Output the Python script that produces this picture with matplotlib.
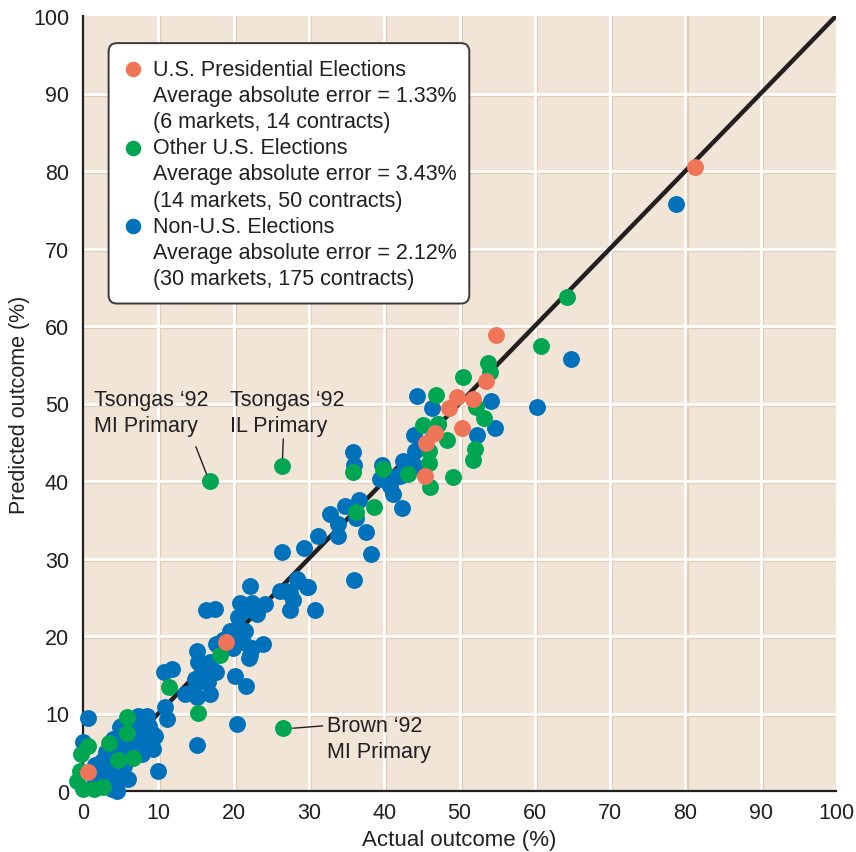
import matplotlib
matplotlib.use("Agg")
import matplotlib.pyplot as plt
from matplotlib.patches import FancyBboxPatch
import numpy as np

plt.rcParams['font.family'] = ['Liberation Sans', 'DejaVu Sans']

# ---------------- data (actual %, predicted %) ----------------
pres_x = [81.3, 54.8, 53.5, 49.7, 51.8, 48.6, 50.3, 46.7, 45.6, 45.4, 19.0, 0.7]
pres_y = [80.5, 58.8, 52.9, 50.8, 50.6, 49.4, 46.8, 46.2, 44.9, 40.6, 19.2, 2.4]

other_x = [64.3, 60.8, 53.8, 54.0, 50.5, 46.9, 52.2, 53.3, 45.2, 47.2, 48.3, 45.9, 52.1, 51.8,
           45.9, 43.1, 49.1, 46.1, 39.9, 35.9, 36.3, 38.6, 26.4, 16.9, 26.6, 15.3, 11.4, 18.2,
           5.9, 5.9, 3.5, 4.6, 6.7, 0.7, -0.2, -0.4, -0.8, 0.0, 1.4, 2.7]
other_y = [63.7, 57.4, 55.2, 54.1, 53.4, 51.1, 49.6, 48.1, 47.2, 47.3, 45.3, 43.9, 44.1, 42.7,
           42.3, 40.9, 40.5, 39.2, 41.5, 41.1, 36.0, 36.6, 41.9, 40.0, 8.1, 10.1, 13.4, 17.6,
           9.5, 7.5, 6.2, 4.0, 4.2, 5.8, 4.8, 2.6, 1.3, 0.3, 0.3, 0.5]

nonus_x = [78.8, 64.8, 60.3, 44.4, 46.3, 54.2, 54.7, 52.3, 43.9, 47.1, 44.1, 42.5, 44.1, 42.1,
           42.9, 41.7, 39.7, 39.4, 40.8, 41.2, 42.3, 35.8, 36.0, 36.3, 34.8, 36.6, 32.8, 33.9,
           33.8, 31.2, 37.6, 38.2, 29.3, 26.4, 36.0, 28.4, 29.9, 27.0,
           22.2, 20.9, 22.4, 24.2, 21.5, 23.1, 20.6, 16.4, 17.5, 26.2, 27.5, 28.6, 29.7, 27.9,
           27.5, 30.8, 21.5, 18.9, 19.7, 22.4, 23.9, 22.0, 15.1, 17.7, 18.6, 19.5, 20.8, 21.3,
           19.9, 22.2, 15.8, 17.7, 10.7, 11.8, 14.9, 15.8, 20.2, 21.7, 14.6, 13.5, 15.1, 16.9,
           10.9, 11.1, 20.4, 15.1, 8.5, 8.5, 9.1, 8.0, 10.0, 0.7, 15.3, 16.9, 16.6,
           7.3, 7.1, 9.1, 9.3, 4.9, 4.0, 5.4, 3.1, 2.5, 1.6, 2.0, 1.6, 3.1, 4.0, 4.7, 4.5, 4.5,
           7.8, 0.0, 5.1, 4.7, 6.9, 4.2, 5.6, 6.5, 7.8, 2.5, 4.2, 2.9, 8.7, 6.2, 7.5, 3.5, 5.5,
           6.0, 9.6, 3.8]
nonus_y = [75.7, 55.7, 49.6, 51.0, 49.4, 50.3, 46.8, 45.9, 45.9, 47.4, 43.9, 42.6, 42.0, 40.7,
           42.1, 40.7, 42.1, 40.3, 39.4, 38.3, 36.5, 43.8, 42.1, 35.2, 36.8, 37.5, 35.7, 34.5,
           32.9, 32.9, 33.4, 30.6, 31.4, 30.8, 27.2, 27.4, 26.3, 25.8,
           26.5, 24.3, 24.3, 24.1, 23.3, 22.8, 22.4, 23.3, 23.5, 25.8, 25.6, 27.1, 26.3, 24.6,
           23.3, 23.3, 20.7, 19.6, 19.0, 18.5, 19.0, 17.2, 18.1, 19.0, 19.5, 20.7, 20.7, 19.2,
           18.5, 17.5, 15.7, 15.3, 15.3, 15.7, 14.5, 14.2, 14.9, 13.6, 12.9, 12.5, 12.1, 12.5,
           10.8, 9.3, 8.6, 5.9, 9.7, 8.0, 7.1, 6.3, 2.6, 9.4, 16.6, 16.6, 14.1,
           9.7, 8.2, 7.5, 5.4, 8.2, 6.7, 5.4, 5.0, 3.9, 3.3, 2.2, 1.1, 2.4, 2.0, 2.4, 0.9, 0.0,
           5.2, 6.3, 8.4, 6.9, 6.1, 5.6, 5.2, 4.3, 4.8, 3.7, 0.7, 0.9, 8.4, 7.0, 5.9, 3.0, 3.2,
           1.5, 7.1, 0.3]

legend_titles = ["U.S. Presidential Elections", "Other U.S. Elections", "Non-U.S. Elections"]
legend_errors = ["1.33%", "3.43%", "2.12%"]
legend_counts = ["(6 markets, 14 contracts)", "(14 markets, 50 contracts)", "(30 markets, 175 contracts)"]

ticks = list(range(0, 101, 10))

# ---------------- style ----------------
C_PRES = "#F07458"
C_OTHER = "#00A651"
C_NONUS = "#0072BC"
BG = "#F1E5D8"
SHADOW = "#E2CEB6"
TXT = "#231F20"

fig = plt.figure(figsize=(8.56, 8.53), dpi=100)
ax = fig.add_axes([83/856, 1 - 792/853, (836-83)/856, (792-17)/853])
ax.set_facecolor(BG)
ax.set_xlim(0, 100)
ax.set_ylim(0, 100)

# grid with tan shadow
for t in ticks[1:-1]:
    ax.axvline(t + 0.28, color=SHADOW, lw=1.6, zorder=0.5)
    ax.axhline(t - 0.28, color=SHADOW, lw=1.6, zorder=0.5)
for t in ticks[1:-1]:
    ax.axvline(t, color="white", lw=2.0, zorder=0.6)
    ax.axhline(t, color="white", lw=2.0, zorder=0.6)

# diagonal
ax.plot([0, 100], [0, 100], color="#231F20", lw=3.2, zorder=2, solid_capstyle='butt')

S = 148
ax.scatter(nonus_x, nonus_y, s=S, color=C_NONUS, lw=0, zorder=3, clip_on=False)
ax.scatter(other_x, other_y, s=S, color=C_OTHER, lw=0, zorder=4, clip_on=False)
ax.scatter(pres_x, pres_y, s=S, color=C_PRES, lw=0, zorder=5, clip_on=False)

for side in ["top", "right"]:
    ax.spines[side].set_visible(False)
for side in ["left", "bottom"]:
    ax.spines[side].set_color(TXT)
    ax.spines[side].set_linewidth(1.6)
    ax.spines[side].set_zorder(2.5)

FS = 15.5
ax.set_xticks(ticks)
ax.set_yticks(ticks)
ax.tick_params(length=0, labelsize=FS, colors=TXT)
ax.tick_params(axis='y', pad=10)
ax.tick_params(axis='x', pad=8)
ax.set_xlabel("Actual outcome (%)", fontsize=16, color=TXT, labelpad=4)
ax.set_ylabel("Predicted outcome (%)", fontsize=15.5, color=TXT, labelpad=2)

# annotations
ax.text(1.5, 51.9, "Tsongas \u201892\nMI Primary", fontsize=FS, color=TXT, va="top", ha="left",
        linespacing=1.3, zorder=6)
ax.plot([15.0, 16.4], [44.4, 40.9], color=TXT, lw=1.0, zorder=6)
ax.text(19.5, 51.9, "Tsongas \u201892\nIL Primary", fontsize=FS, color=TXT, va="top", ha="left",
        linespacing=1.3, zorder=6)
ax.plot([26.6, 26.5], [45.4, 43.0], color=TXT, lw=1.0, zorder=6)
ax.text(32.4, 9.8, "Brown \u201892\nMI Primary", fontsize=FS, color=TXT, va="top", ha="left",
        linespacing=1.3, zorder=6)
ax.plot([27.9, 31.8], [8.1, 8.4], color=TXT, lw=1.0, zorder=6)

# legend box (manual)
box = FancyBboxPatch((3.4, 62.9), 47.9, 33.6, boxstyle="round,pad=0,rounding_size=1.1",
                     transform=ax.transData, facecolor="white", edgecolor="#3a3a3a",
                     lw=1.4, zorder=7)
ax.add_patch(box)
colors = [C_PRES, C_OTHER, C_NONUS]
line_h = 26.2 / 7.75
y0 = (792 - 70) / 7.75
for i in range(3):
    yy = y0 - i * 3 * line_h
    ax.scatter([6.7], [yy], s=125, color=colors[i], lw=0, zorder=8)
    ax.text(9.3, yy, legend_titles[i], fontsize=FS, color=TXT, va="center", ha="left", zorder=8)
    ax.text(9.3, yy - line_h, "Average absolute error = " + legend_errors[i], fontsize=FS,
            color=TXT, va="center", ha="left", zorder=8)
    ax.text(9.3, yy - 2 * line_h, legend_counts[i], fontsize=FS, color=TXT, va="center",
            ha="left", zorder=8)

fig.savefig("out.png", dpi=100)
